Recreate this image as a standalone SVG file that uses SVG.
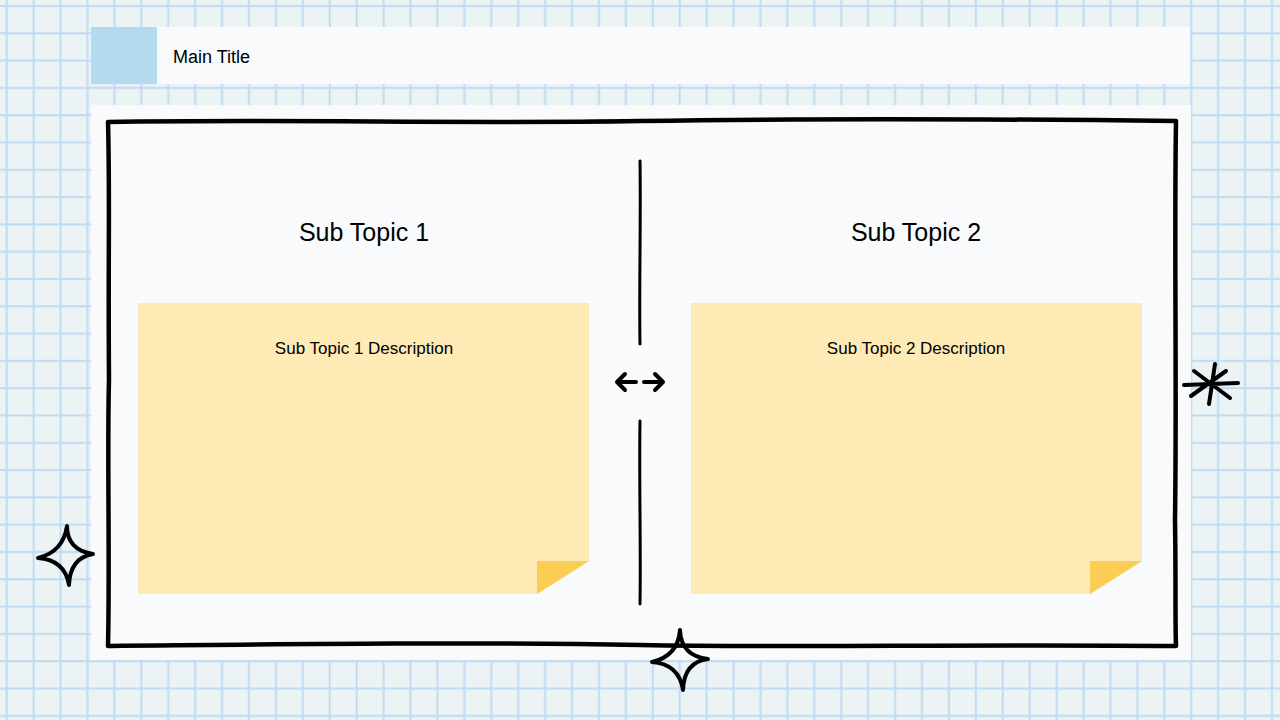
<svg xmlns="http://www.w3.org/2000/svg" width="1280" height="720" viewBox="0 0 1280 720">
  <defs>
    <pattern id="grid" patternUnits="userSpaceOnUse" x="0" y="0" width="26.92" height="27.3">
      <rect width="26.92" height="27.3" fill="#ebf3f4"/>
      <line x1="6.7" y1="0" x2="6.7" y2="27.3" stroke="#bfdbf4" stroke-width="2"/>
      <line x1="0" y1="6" x2="26.92" y2="6" stroke="#bfdbf4" stroke-width="2"/>
    </pattern>
    <style>
      .ink { fill: none; stroke: #000; stroke-linecap: round; stroke-linejoin: round; }
      .sticky { fill: #feeab5; }
      .fold { fill: #fccd55; }
      .h1 { font-family: "Liberation Sans", Arial, sans-serif; font-size: 25px; fill: #000; text-anchor: middle; }
      .desc { font-family: "Liberation Sans", Arial, sans-serif; font-size: 17px; fill: #000; text-anchor: middle; }
      .title { font-family: "Liberation Sans", Arial, sans-serif; font-size: 18px; fill: #000; }
    </style>
  </defs>

  <rect x="0" y="0" width="1280" height="720" fill="url(#grid)"/>

  <g id="title">
    <rect x="91" y="27" width="1099" height="57" fill="#f8fafb"/>
    <rect x="91" y="27" width="66" height="57" fill="#b3daef"/>
    <text class="title" x="173" y="63">Main Title</text>
  </g>

  <g id="panel">
    <rect x="91" y="105" width="1100" height="555" fill="#f9fafc"/>
    <path class="ink" stroke-width="4.5" d="M108,122 C300,119 450,124 640,121 S1000,119 1176,121 C1174,250 1177,380 1175,520 C1176,580 1175,620 1176,646 C950,644 800,648 640,645 S300,644 108,646 C110,560 107,450 109,380 C108,260 110,190 108,122 Z"/>
  </g>

  <g id="divider">
    <path class="ink" stroke-width="3" d="M640,161 C641,220 639,290 640,344"/>
    <path class="ink" stroke-width="3" d="M640,421 C639,480 641,550 640,604"/>
  </g>

  <g id="subtopic1">
    <text class="h1" x="364" y="241">Sub Topic 1</text>
    <path class="sticky" d="M138,303 H589 V561 L537,594 H138 Z"/>
    <path class="fold" d="M537,561 H589 L537,594 Z"/>
    <text class="desc" x="364" y="354">Sub Topic 1 Description</text>
  </g>

  <g id="subtopic2">
    <text class="h1" x="916" y="241">Sub Topic 2</text>
    <path class="sticky" d="M691,303 H1142 V561 L1090,594 H691 Z"/>
    <path class="fold" d="M1090,561 H1142 L1090,594 Z"/>
    <text class="desc" x="916" y="354">Sub Topic 2 Description</text>
  </g>

  <g id="connectors">
    <path class="ink" stroke-width="4" d="M617,382 H636 M625,374 L617,382 L625,390"/>
    <path class="ink" stroke-width="4" d="M644,382 H663 M655,374 L663,382 L655,390"/>
  </g>

  <g id="decorations">
    <path class="ink" stroke-width="4" d="M67,526 Q67,550 93,554 Q70,558 69,585 Q65,560 38,558 Q63,552 67,526 Z"/>
    <path class="ink" stroke-width="4" d="M680,630 Q681,656 708,659 Q684,662 683,690 Q679,664 652,662 Q678,656 680,630 Z"/>
    <path class="ink" stroke-width="4" d="M1184,385 L1238,383 M1194,371 L1230,398 M1191,396 L1226,371 M1215,364 L1209,404"/>
  </g>
</svg>
